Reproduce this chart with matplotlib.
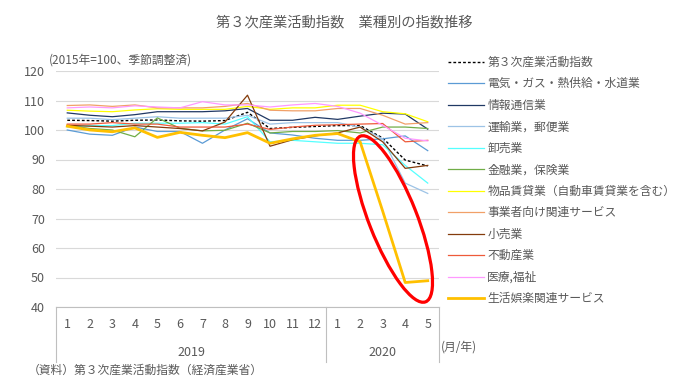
import matplotlib
matplotlib.use('Agg')
import matplotlib.pyplot as plt
from matplotlib.patches import Ellipse
from matplotlib.transforms import IdentityTransform

plt.rcParams['font.family'] = ['Noto Sans CJK JP', 'DejaVu Sans']

# month labels (2019/1 .. 2020/5)
months = ['1', '2', '3', '4', '5', '6', '7', '8', '9', '10', '11', '12', '1', '2', '3', '4', '5']
years = ['2019', '2020']

# index values
overall = [103.3, 103.2, 103.0, 103.3, 103.4, 103.1, 103.0, 103.2, 106.0, 100.5, 100.9, 101.2, 101.5, 101.5, 97.3, 89.8, 87.8]
electric = [100.0, 98.6, 98.2, 101.0, 99.5, 99.5, 95.5, 100.0, 103.8, 99.0, 98.3, 97.2, 96.5, 96.5, 97.0, 98.0, 93.0]
info = [105.8, 105.0, 104.5, 105.2, 106.2, 106.2, 106.2, 106.5, 107.3, 103.3, 103.3, 104.3, 103.6, 104.7, 105.7, 105.4, 100.3]
transport = [104.0, 104.0, 103.5, 104.0, 104.5, 104.0, 104.0, 104.0, 105.0, 102.0, 102.5, 102.5, 102.5, 101.0, 97.0, 82.0, 78.5]
wholesale = [101.0, 101.5, 101.5, 102.3, 102.3, 102.3, 102.5, 102.0, 104.5, 96.0, 96.5, 96.0, 95.5, 95.5, 95.0, 88.0, 82.0]
finance = [101.6, 100.5, 100.0, 97.7, 104.1, 100.6, 99.7, 99.9, 102.3, 99.0, 99.5, 99.5, 99.8, 99.0, 101.0, 101.0, 100.5]
leasing = [106.7, 106.4, 106.2, 106.8, 107.2, 107.0, 107.0, 107.0, 108.0, 107.0, 107.5, 107.5, 108.4, 108.4, 106.2, 105.5, 102.8]
business = [108.3, 108.5, 108.0, 108.5, 107.5, 107.5, 107.5, 108.0, 109.0, 106.7, 106.5, 106.5, 107.3, 107.3, 105.0, 102.0, 102.5]
retail = [101.6, 101.3, 101.0, 101.5, 101.0, 100.5, 99.7, 102.7, 111.8, 94.5, 96.7, 98.0, 99.0, 101.0, 96.0, 87.0, 88.0]
realestate = [102.0, 102.0, 102.5, 102.0, 102.0, 101.0, 101.0, 101.0, 102.0, 100.2, 101.0, 101.6, 101.8, 102.0, 102.2, 96.0, 96.5]
medical = [107.5, 107.8, 107.5, 108.2, 107.8, 107.5, 109.6, 108.5, 108.5, 107.8, 108.5, 109.0, 108.0, 105.7, 101.6, 97.2, 96.3]
leisure = [101.3, 100.0, 99.4, 100.7, 97.5, 99.2, 98.2, 97.4, 99.1, 95.5, 97.0, 98.2, 98.8, 96.0, 72.5, 48.3, 48.9]

series = [
    ('第３次産業活動指数', overall, 'black', 1.0, (0, (2, 1.5))),
    ('電気・ガス・熱供給・水道業', electric, '#5b9bd5', 0.9, '-'),
    ('情報通信業', info, '#203864', 0.9, '-'),
    ('運輸業，郵便業', transport, '#9dc3e6', 0.9, '-'),
    ('卸売業', wholesale, '#55ffff', 0.9, '-'),
    ('金融業，保険業', finance, '#70ad47', 0.9, '-'),
    ('物品賃貸業（自動車賃貸業を含む）', leasing, '#ffff00', 0.9, '-'),
    ('事業者向け関連サービス', business, '#f1a068', 0.9, '-'),
    ('小売業', retail, '#843c0c', 0.9, '-'),
    ('不動産業', realestate, '#ee5a3a', 0.9, '-'),
    ('医療,福祉', medical, '#ff99ff', 0.9, '-'),
    ('生活娯楽関連サービス', leisure, '#ffc000', 2.0, '-'),
]

gray = '#595959'
fig = plt.figure(figsize=(6.89, 3.84), dpi=100)
ax = fig.add_axes([56 / 689, 1 - 307 / 384, 383 / 689, 236 / 384])

x = list(range(len(months)))
handles = []
for label, vals, color, lw, ls in series:
    h, = ax.plot(x, vals, color=color, linewidth=lw, linestyle=ls, label=label)
    handles.append(h)

ax.set_xlim(-0.5, len(months) - 0.5)
ax.set_ylim(40, 120)
ax.set_yticks(range(40, 121, 10))
ax.yaxis.grid(True, color='#d9d9d9', linewidth=0.8)
ax.set_axisbelow(True)
for s in ['top', 'right', 'left']:
    ax.spines[s].set_visible(False)
ax.spines['bottom'].set_color('#bfbfbf')
ax.tick_params(axis='y', length=0, pad=8, labelsize=9, labelcolor=gray)
ax.set_xticks(x)
ax.set_xticklabels(months)
ax.tick_params(axis='x', length=0, pad=8, labelsize=9, labelcolor=gray)

# two-level category axis: separators and year labels
tr = ax.get_xaxis_transform()
for xb in [-0.5, 11.5, 16.5]:
    ax.plot([xb, xb], [0, -0.235], transform=tr, color='#bfbfbf', linewidth=0.8, clip_on=False)
ax.text(5.5, -0.192, years[0], transform=tr, ha='center', va='center', fontsize=9, color=gray)
ax.text(14, -0.192, years[1], transform=tr, ha='center', va='center', fontsize=9, color=gray)

# red ellipse highlighting the drop
ell = Ellipse((393, 384 - 219), width=178, height=48, angle=-68.5, transform=IdentityTransform(),
              fill=False, edgecolor='red', linewidth=2.3)
fig.add_artist(ell)

fig.text(0.5, 1 - 22 / 384, '第３次産業活動指数　業種別の指数推移', ha='center', va='center',
         fontsize=10.3, color=gray)
fig.text(49 / 689, 1 - 60 / 384, '(2015年=100、季節調整済)', ha='left', va='center', fontsize=8.5, color=gray)
fig.text(441 / 689, 1 - 347 / 384, '(月/年)', ha='left', va='center', fontsize=8.5, color=gray)
fig.text(28 / 689, 1 - 370 / 384, '（資料）第３次産業活動指数（経済産業省）', ha='left', va='center',
         fontsize=8.5, color=gray)

leg = fig.legend(handles=handles, loc='upper left', bbox_to_anchor=(443 / 689, 1 - 51 / 384),
                 frameon=False, fontsize=8.5, handlelength=3.1, handletextpad=0.25,
                 labelspacing=0.72, borderaxespad=0)
for t in leg.get_texts():
    t.set_color(gray)

fig.savefig('out.png', dpi=100)
